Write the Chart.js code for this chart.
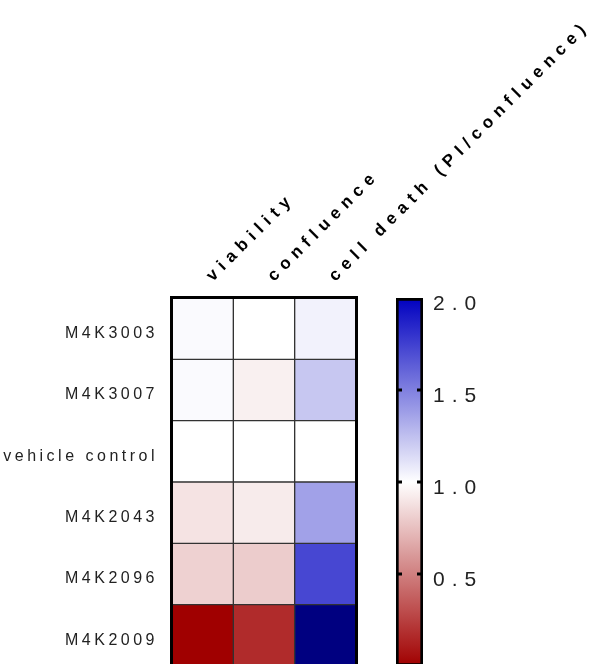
<!DOCTYPE html>
<html>
<head>
<meta charset="utf-8">
<script src="https://cdn.jsdelivr.net/npm/chart.js@4.4.1/dist/chart.umd.min.js"></script>
<style>
  html, body { margin: 0; padding: 0; background: #fff; overflow: hidden; width: 602px; height: 664px; }
  #heat { position: absolute; left: 0; top: 0; }
  #bar { position: absolute; left: 380px; top: 270px; }
</style>
</head>
<body>
<canvas id="heat" width="602" height="672"></canvas>
<canvas id="bar" width="130" height="400"></canvas>
<script>
// Rows (treatments) and columns (readouts) of the heat map
const rowLabels = ['M4K3003', 'M4K3007', 'vehicle control', 'M4K2043', 'M4K2096', 'M4K2009'];
const columnLabels = ['viability', 'confluence', 'cell death (PI/confluence)'];

// Fold change relative to vehicle control, one array per readout (rows in order above)
const viability  = [1.02, 1.02, 1.00, 0.89, 0.82, 0.00];
const confluence = [1.00, 0.94, 1.00, 0.92, 0.80, 0.17];
const cellDeath  = [1.05, 1.22, 1.00, 1.37, 1.72, 2.20];

// Colour scale range and its tick labels
const scaleMin = 0;
const scaleMax = 2;
const scaleTicks = [0.5, 1.0, 1.5, 2.0];

const columns = [viability, confluence, cellDeath];

// red (low) -> white (1) -> blue (high); values above the range are navy
function colorFor(v) {
  if (v > scaleMax) return 'rgb(0,0,128)';
  if (v <= 1) {
    const t = Math.max(0, (v - scaleMin) / (1 - scaleMin));
    const r = Math.round(160 + 95 * t), g = Math.round(255 * t);
    return `rgb(${r},${g},${g})`;
  }
  const t = Math.min(1, (v - 1) / (scaleMax - 1));
  const rg = Math.round(255 * (1 - t)), b = Math.round(255 - 63 * t);
  return `rgb(${rg},${rg},${b})`;
}

const FONT = "'Liberation Sans', Arial, sans-serif";

// keep the plot area fixed: labels may overhang the ends of the axis
function noEdgePadding(s) {
  s.paddingTop = 0;
  s.paddingBottom = 0;
}

// Outer frame and rotated column headers for the heat map
const heatDecor = {
  id: 'heatDecor',
  beforeDraw(chart) { chart.ctx.letterSpacing = '3.5px'; },
  afterDraw(chart) {
    const { ctx, chartArea: a } = chart;
    const x = chart.scales.x;
    ctx.save();
    ctx.strokeStyle = '#000';
    ctx.lineWidth = 3;
    ctx.strokeRect(a.left - 0.5, a.top - 0.5, a.right - a.left + 1, a.bottom - a.top + 1);
    ctx.fillStyle = '#000';
    ctx.font = 'bold 17px ' + FONT;
    ctx.letterSpacing = '6px';
    ctx.textAlign = 'left';
    ctx.textBaseline = 'alphabetic';
    columnLabels.forEach((lab, i) => {
      ctx.save();
      ctx.translate(x.getPixelForValue(i + 0.5) + 10, a.top - 16);
      ctx.rotate(-Math.PI / 4);
      ctx.fillText(lab, 0, 0);
      ctx.restore();
    });
    ctx.restore();
  }
};

new Chart(document.getElementById('heat'), {
  type: 'bar',
  data: {
    labels: rowLabels,
    datasets: columns.map((vals, c) => ({
      label: columnLabels[c],
      data: rowLabels.map(() => [c, c + 1]),
      backgroundColor: vals.map(colorFor),
      borderColor: '#333',
      borderWidth: 1,
      borderSkipped: false,
      barPercentage: 1,
      categoryPercentage: 1,
      grouped: false
    }))
  },
  options: {
    indexAxis: 'y',
    responsive: false,
    animation: false,
    devicePixelRatio: 1,
    layout: { padding: { left: 0, top: 298, right: 246, bottom: 6 } },
    plugins: { legend: { display: false }, tooltip: { enabled: false } },
    scales: {
      x: { type: 'linear', min: 0, max: columns.length, display: false },
      y: {
        type: 'category',
        grid: { display: false, drawTicks: false },
        border: { display: false },
        afterFit(s) { s.width = 172; noEdgePadding(s); },
        ticks: {
          color: '#222',
          padding: 14,
          labelOffset: 5,
          font: { family: FONT, size: 16 }
        }
      }
    }
  },
  plugins: [heatDecor]
});

// Colour bar with tick dashes on both edges
const barDecor = {
  id: 'barDecor',
  beforeDraw(chart) { chart.ctx.letterSpacing = '7px'; },
  afterDatasetsDraw(chart) {
    const { ctx, chartArea: a } = chart;
    const y = chart.scales.y;
    ctx.save();
    ctx.fillStyle = '#000';
    scaleTicks.filter(v => v < scaleMax).forEach(v => {
      const py = y.getPixelForValue(v);
      ctx.fillRect(a.left, py - 1.5, 6, 3);
      ctx.fillRect(a.right - 6, py - 1.5, 6, 3);
    });
    ctx.restore();
  }
};

new Chart(document.getElementById('bar'), {
  type: 'bar',
  data: {
    labels: [''],
    datasets: [{
      data: [[scaleMin, scaleMax]],
      backgroundColor(context) {
        const chart = context.chart;
        if (!chart.chartArea) return '#fff';
        const y = chart.scales.y;
        const g = chart.ctx.createLinearGradient(0, y.getPixelForValue(scaleMin), 0, y.getPixelForValue(scaleMax));
        for (let i = 0; i <= 20; i++) {
          const v = scaleMin + (scaleMax - scaleMin) * i / 20;
          g.addColorStop(i / 20, colorFor(v));
        }
        return g;
      },
      borderColor: '#000',
      borderWidth: 3,
      borderSkipped: false,
      barPercentage: 1,
      categoryPercentage: 1
    }]
  },
  options: {
    responsive: false,
    animation: false,
    devicePixelRatio: 1,
    layout: { padding: { left: 16, top: 28, right: 0, bottom: 4 } },
    plugins: { legend: { display: false }, tooltip: { enabled: false } },
    scales: {
      x: { display: false },
      y: {
        position: 'right',
        min: scaleMin,
        max: scaleMax,
        grid: { display: false, drawTicks: false },
        border: { display: false },
        afterFit(s) { s.width = 87; noEdgePadding(s); },
        afterBuildTicks(s) { s.ticks = scaleTicks.map(v => ({ value: v })); },
        ticks: {
          color: '#222',
          padding: 10,
          labelOffset: 6,
          font: { family: FONT, size: 21 },
          callback: v => Number(v).toFixed(1)
        }
      }
    }
  },
  plugins: [barDecor]
});
</script>
</body>
</html>
